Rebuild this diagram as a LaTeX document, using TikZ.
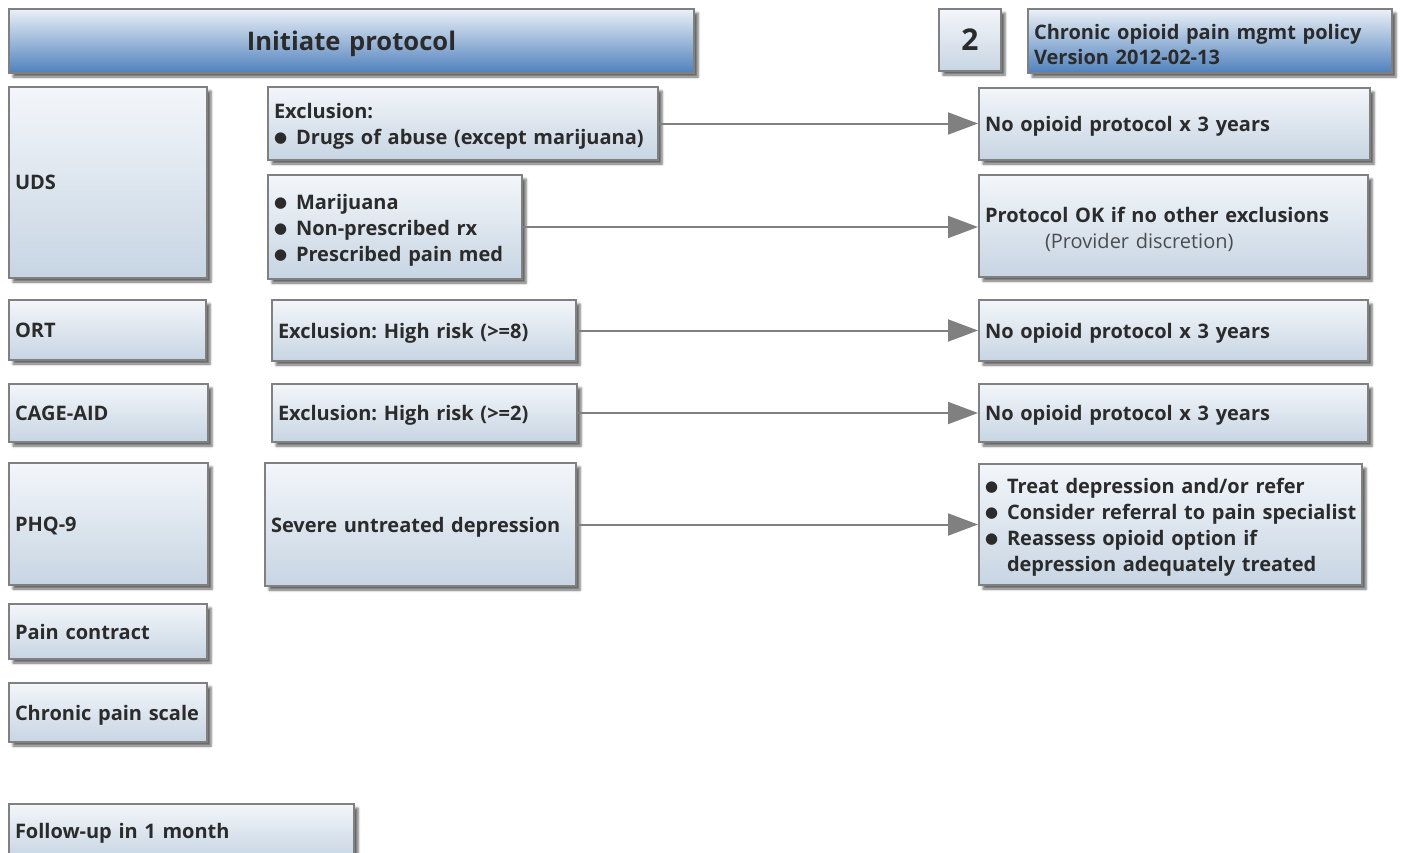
\documentclass[tikz,border=0pt]{standalone}
\usepackage{fontspec}
\setmainfont{Open Sans}
\newfontfamily\dotfont{DejaVu Sans}
\usepackage{tikz}
\usetikzlibrary{arrows.meta}
\usetikzlibrary{shadows.blur}
\frenchspacing
\definecolor{boxtop}{HTML}{F3F6FA}
\definecolor{boxbot}{HTML}{C7D5E3}
\definecolor{headtop}{HTML}{EBF0F7}
\definecolor{headbot}{HTML}{4F81BD}
\definecolor{txtgray}{HTML}{2B2B2B}
\newcommand{\itm}[1]{\mbox{\makebox[11pt][l]{\raisebox{0.9pt}{\dotfont\fontsize{7.5}{8}\selectfont ●}}#1}}
\newcommand{\itmgap}{\hspace*{11pt}}

\begin{document}
\begin{tikzpicture}[x=0.5pt,y=-0.5pt]
    \tikzset{
      box/.style={draw=black!50, line width=1pt, top color=boxtop, bottom color=boxbot,
        anchor=north west, align=left, inner xsep=3pt, inner ysep=1pt, text=txtgray,
        font=\bfseries\fontsize{10}{13}\selectfont,
        execute at end node={\par\vspace*{-3pt}},
        blur shadow={shadow xshift=2pt, shadow yshift=-2pt, shadow blur radius=1.2pt, shadow opacity=60}},
      headbox/.style={box, top color=headtop, bottom color=headbot},
      flow/.style={draw=black!50, line width=1pt, -{Triangle[length=15pt,width=11pt]}}
    }
    \useasboundingbox (0,0) rectangle (1403,852);

    % defines
    \pgfmathsetmacro\LeftXCoord{8}   % left column
    \pgfmathsetmacro\RightXCoord{978} % right column

    % draw header boxes
    \node (init) [headbox, text width=336.5pt, minimum height=32pt, align=center,
      font=\bfseries\fontsize{12.8}{15}\selectfont] at (\LeftXCoord,8) {Initiate protocol};
    \node (page) [box, text width=25pt, minimum height=31pt, align=center,
      font=\bfseries\fontsize{15}{17}\selectfont] at (938,8) {2};
    \node (policy) [headbox, text width=176pt, minimum height=32pt,
      font=\bfseries\fontsize{10}{12.5}\selectfont] at (1027,8)
      {Chronic opioid pain mgmt policy\\Version 2012-02-13};

    % draw left column
    \node (uds) [box, text width=93pt, minimum height=95.5pt] at (\LeftXCoord,86) {UDS};
    \node (ort) [box, text width=92.5pt, minimum height=30pt] at (\LeftXCoord,299) {ORT};
    \node (cage) [box, text width=93.5pt, minimum height=29pt] at (\LeftXCoord,383) {CAGE-AID};
    \node (phq) [box, text width=93.5pt, minimum height=61pt] at (\LeftXCoord,462) {PHQ-9};
    \node (contract) [box, text width=93pt, minimum height=27.5pt] at (\LeftXCoord,603) {Pain contract};
    \node (scale) [box, text width=93pt, minimum height=29.5pt] at (\LeftXCoord,682) {Chronic pain scale};
    \node (followup) [box, text width=166.5pt, minimum height=27pt] at (\LeftXCoord,803) {Follow-up in 1 month};

    % draw middle column
    \node (udsex) [box, text width=189pt, minimum height=36.5pt] at (267,86)
      {Exclusion:\\\itm{Drugs of abuse (except marijuana)}};
    \node (udsok) [box, text width=121pt, minimum height=52pt] at (267,174)
      {\itm{Marijuana}\\\itm{Non-prescribed rx}\\\itm{Prescribed pain med}};
    \node (ortex) [box, text width=146pt, minimum height=30.5pt] at (271,299)
      {Exclusion: High risk (>=8)};
    \node (cageex) [box, text width=146.5pt, minimum height=29pt] at (271,383)
      {Exclusion: High risk (>=2)};
    \node (phqex) [box, text width=149.5pt, minimum height=61.5pt] at (264,462)
      {Severe untreated depression};

    % draw right column
    \node (udsno) [box, text width=189.5pt, minimum height=36pt] at (\RightXCoord,87)
      {No opioid protocol x 3 years};
    \node (udsyes) [box, text width=188.5pt, minimum height=51pt] at (\RightXCoord,174)
      {Protocol OK if no other exclusions\\
       \hspace*{30pt}{\mdseries\color{black!70}(Provider discretion)}};
    \node (ortno) [box, text width=188.5pt, minimum height=30.5pt] at (\RightXCoord,299)
      {No opioid protocol x 3 years};
    \node (cageno) [box, text width=188.5pt, minimum height=29pt] at (\RightXCoord,383)
      {No opioid protocol x 3 years};
    \node (phqtreat) [box, text width=185.5pt, minimum height=60.5pt] at (\RightXCoord,463)
      {\itm{Treat depression and/or refer}\\\itm{Consider referral to pain specialist}\\
       \itm{Reassess opioid option if}\\\itmgap depression adequately treated};

    % draw connection lines
    \draw[flow] (udsex.east) -- (udsex.east -| udsno.west);
    \draw[flow] (udsok.east) -- (udsok.east -| udsyes.west);
    \draw[flow] (ortex.east) -- (ortex.east -| ortno.west);
    \draw[flow] (cageex.east) -- (cageex.east -| cageno.west);
    \draw[flow] (phqex.east) -- (phqex.east -| phqtreat.west);
\end{tikzpicture}
\end{document}
